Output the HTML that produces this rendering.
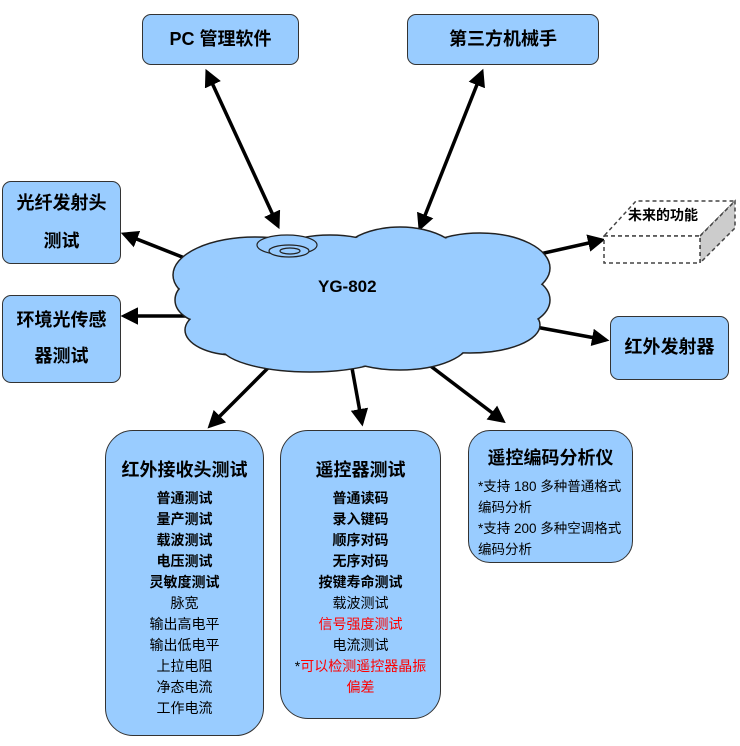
<!DOCTYPE html>
<html><head><meta charset="utf-8"><style>
body{margin:0;width:740px;height:746px;background:#fff;position:relative;overflow:hidden;font-family:"Liberation Sans","Noto Sans CJK SC",sans-serif}
.b{position:absolute;background:#99ccff;border:1.5px solid #333;box-sizing:border-box;text-align:center;color:#000}
.t{font-weight:bold;font-size:18px}
.l{font-size:14px;line-height:21px}
.bd{font-weight:bold}
.r{color:#ff0000}
</style></head><body>
<svg width="740" height="746" style="position:absolute;left:0;top:0">
<defs><marker id="a" markerWidth="5" markerHeight="5" refX="4" refY="2.5" orient="auto" markerUnits="strokeWidth"><path d="M0,0L5,2.5L0,5z" fill="#000"/></marker>
<marker id="s" markerWidth="5" markerHeight="5" refX="1" refY="2.5" orient="auto" markerUnits="strokeWidth"><path d="M5,0L0,2.5L5,5z" fill="#000"/></marker></defs>
<g stroke="#000" stroke-width="3.5" fill="none">
<line x1="278" y1="226" x2="207" y2="72" marker-end="url(#a)" marker-start="url(#s)"/>
<line x1="420" y1="228" x2="482" y2="72" marker-end="url(#a)" marker-start="url(#s)"/>
<line x1="215" y1="270" x2="124" y2="234" marker-end="url(#a)"/>
<line x1="192" y1="316" x2="124" y2="316" marker-end="url(#a)"/>
<line x1="522" y1="258" x2="602" y2="240" marker-end="url(#a)"/>
<line x1="514" y1="323" x2="606" y2="340" marker-end="url(#a)"/>
<line x1="278" y1="358" x2="210" y2="426" marker-end="url(#a)"/>
<line x1="352" y1="368" x2="362" y2="423" marker-end="url(#a)"/>
<line x1="420" y1="358" x2="503" y2="421" marker-end="url(#a)"/>
</g>
<g fill="#99ccff" stroke="#222" stroke-width="1.5">
<ellipse cx="255" cy="275" rx="82" ry="38"/><ellipse cx="215" cy="300" rx="40" ry="25"/><ellipse cx="235" cy="330" rx="50" ry="25"/>
<ellipse cx="310" cy="345" rx="90" ry="27"/><ellipse cx="400" cy="340" rx="70" ry="30"/><ellipse cx="470" cy="325" rx="70" ry="28"/>
<ellipse cx="505" cy="300" rx="45" ry="28"/><ellipse cx="480" cy="268" rx="70" ry="35"/><ellipse cx="400" cy="265" rx="65" ry="38"/><ellipse cx="330" cy="270" rx="70" ry="35"/>
</g>
<g fill="#99ccff">
<ellipse cx="255" cy="275" rx="81" ry="37"/><ellipse cx="215" cy="300" rx="39" ry="24"/><ellipse cx="235" cy="330" rx="49" ry="24"/>
<ellipse cx="310" cy="345" rx="89" ry="26"/><ellipse cx="400" cy="340" rx="69" ry="29"/><ellipse cx="470" cy="325" rx="69" ry="27"/>
<ellipse cx="505" cy="300" rx="44" ry="27"/><ellipse cx="480" cy="268" rx="69" ry="34"/><ellipse cx="400" cy="265" rx="64" ry="37"/><ellipse cx="330" cy="270" rx="69" ry="34"/>
<rect x="230" y="270" width="280" height="70"/>
</g>
<g fill="#99ccff" stroke="#222" stroke-width="1.2">
<ellipse cx="287" cy="245" rx="30" ry="10"/><ellipse cx="289" cy="251" rx="20" ry="6"/><ellipse cx="290" cy="251" rx="10" ry="3"/>
</g>
<text x="318" y="292" font-size="17" font-weight="bold" font-family="Liberation Sans,sans-serif">YG-802</text>
<g stroke="#444" stroke-width="1.5" stroke-dasharray="4,3">
<polygon points="604,236 700,236 735,201 636,201" fill="#fff"/>
<polygon points="700,236 735,201 735,228 700,263" fill="#ccc"/>
<rect x="604" y="236" width="96" height="27" fill="#fff"/>
</g>
<text x="628" y="220" font-size="14" font-weight="bold" font-family="Liberation Sans,Noto Sans CJK SC,sans-serif">未来的功能</text>
</svg>
<div class="b t" style="left:142px;top:14px;width:157px;height:51px;border-radius:9px;line-height:48px">PC 管理软件</div>
<div class="b t" style="left:407px;top:14px;width:192px;height:51px;border-radius:9px;line-height:48px">第三方机械手</div>
<div class="b t" style="left:2px;top:181px;width:119px;height:83px;border-radius:9px;line-height:38px;padding-top:2px">光纤发射头<br>测试</div>
<div class="b t" style="left:2px;top:295px;width:119px;height:88px;border-radius:9px;line-height:36px;padding-top:6px">环境光传感<br>器测试</div>
<div class="b t" style="left:610px;top:316px;width:119px;height:64px;border-radius:9px;line-height:60px">红外发射器</div>
<div class="b" style="left:105px;top:430px;width:159px;height:306px;border-radius:28px;padding-top:25px">
<div class="t" style="margin-bottom:6px">红外接收头测试</div>
<div class="l"><span class="bd">普通测试<br>量产测试<br>载波测试<br>电压测试<br>灵敏度测试</span><br>脉宽<br>输出高电平<br>输出低电平<br>上拉电阻<br>净态电流<br>工作电流</div></div>
<div class="b" style="left:280px;top:430px;width:161px;height:289px;border-radius:28px;padding-top:25px">
<div class="t" style="margin-bottom:6px">遥控器测试</div>
<div class="l"><span class="bd">普通读码<br>录入键码<br>顺序对码<br>无序对码<br>按键寿命测试</span><br>载波测试<br><span class="r">信号强度测试</span><br>电流测试<br>*<span class="r">可以检测遥控器晶振<br>偏差</span></div></div>
<div class="b" style="left:468px;top:430px;width:165px;height:133px;border-radius:22px;padding-top:13px">
<div class="t" style="margin-bottom:6px">遥控编码分析仪</div>
<div style="font-size:13.5px;line-height:21px;text-align:left;padding-left:9px">*支持 180 多种普通格式<br>编码分析<br>*支持 200 多种空调格式<br>编码分析</div></div>
</body></html>
